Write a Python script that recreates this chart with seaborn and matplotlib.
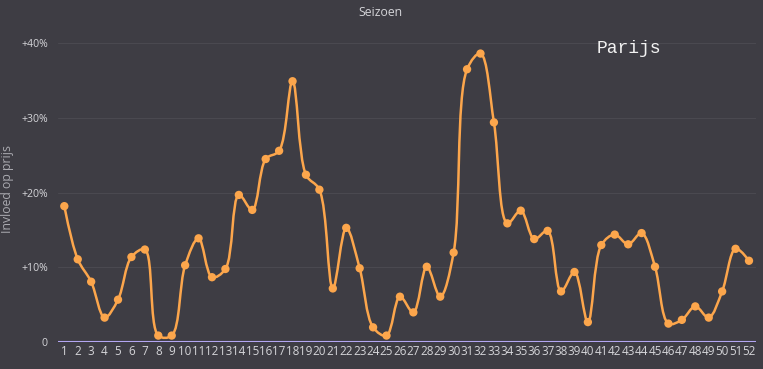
import numpy as np
import pandas as pd
import matplotlib
matplotlib.use("Agg")
import matplotlib.pyplot as plt
from matplotlib.path import Path
from matplotlib.patches import PathPatch
import seaborn as sns

# week numbers and seasonal price influence (%)
weeks = list(range(1, 53))
influence = [18.2, 11.1, 8.1, 3.3, 5.7, 11.4, 12.4, 0.9, 0.9, 10.3,
             13.9, 8.7, 9.8, 19.7, 17.7, 24.5, 25.6, 34.9, 22.4, 20.4,
             7.2, 15.3, 9.9, 2.0, 0.9, 6.1, 4.0, 10.1, 6.1, 12.0,
             36.5, 38.6, 29.4, 15.9, 17.6, 13.8, 14.9, 6.8, 9.4, 2.7,
             13.0, 14.4, 13.1, 14.6, 10.1, 2.5, 3.0, 4.8, 3.3, 6.8,
             12.5, 10.9]
y_ticks = [0, 10, 20, 30, 40]
y_tick_labels = ["0", "+10%", "+20%", "+30%", "+40%"]

BG = "#3e3d44"
GRID = "#4a4950"
TEXT = "#d4d4d8"
LINE = "#fca64c"
AXIS = "#b3a6f2"

df = pd.DataFrame({"week": weeks, "influence": influence})

sns.set_theme(style="dark")
plt.rcParams["font.family"] = ["Open Sans", "DejaVu Sans"]

fig = plt.figure(figsize=(7.63, 3.69), dpi=100, facecolor=BG)
W, H = 763, 369
left, right, bottom, top = 57.6, 755.7, 342.3, 35.6
ax = fig.add_axes([left / W, 1 - bottom / H, (right - left) / W, (bottom - top) / H])
ax.set_facecolor(BG)
ax.set_xlim(0.5, 52.5)
ax.set_ylim(0, 41)


def spline_path(xs, ys, smoothness=1.0):
    # plotly-style spline, computed in display space
    pts = ax.transData.transform(np.column_stack([xs, ys]))
    tangents = []
    for i in range(1, len(pts) - 1):
        p0, p1, p2 = pts[i - 1], pts[i], pts[i + 1]
        d1 = p0 - p1
        d2 = p2 - p1
        d1a = np.hypot(*d1) ** 0.5
        d2a = np.hypot(*d2) ** 0.5
        num = (d2a * d2a * d1 - d1a * d1a * d2) * smoothness
        den1 = 3 * d2a * (d1a + d2a)
        den2 = 3 * d1a * (d1a + d2a)
        tangents.append((p1 + num / den1, p1 - num / den2))
    verts = [pts[0], tangents[0][0], pts[1]]
    codes = [Path.MOVETO, Path.CURVE3, Path.CURVE3]
    for i in range(1, len(pts) - 2):
        verts += [tangents[i - 1][1], tangents[i][0], pts[i + 1]]
        codes += [Path.CURVE4] * 3
    verts += [tangents[-1][1], pts[-1]]
    codes += [Path.CURVE3] * 2
    verts = ax.transData.inverted().transform(np.array(verts))
    return Path(verts, codes)


ax.add_patch(PathPatch(spline_path(df["week"].values, df["influence"].values),
                       facecolor="none", edgecolor=LINE, lw=1.8, zorder=3))
sns.scatterplot(data=df, x="week", y="influence", ax=ax, color=LINE,
                s=36, edgecolor="none", zorder=4, legend=False)

for v in y_ticks[1:]:
    ax.axhline(v, color=GRID, lw=0.8, zorder=1)
ax.axhline(0, color=AXIS, lw=1.5, zorder=2)

ax.set_yticks(y_ticks)
ax.set_yticklabels(y_tick_labels)
ax.set_xticks(weeks)
ax.set_xticklabels([str(w) for w in weeks])
ax.tick_params(axis="both", length=0, colors=TEXT)
ax.tick_params(axis="x", pad=2, labelsize=8.4)
ax.tick_params(axis="y", pad=7, labelsize=7.6)

# boundary ticks under the x axis
ax.set_xticks([w + 0.5 for w in weeks[:-1]], minor=True)
ax.tick_params(axis="x", which="minor", length=4, width=1, color=AXIS, direction="out")

for s in ax.spines.values():
    s.set_visible(False)

ax.set_xlabel("")
ax.set_ylabel("Invloed op prijs", color="#aaaab0", fontsize=8.8)
ax.yaxis.set_label_coords(-0.0625, 0.5)
fig.text(0.498, 0.965, "Seizoen", ha="center", va="center", color=TEXT, fontsize=8.8)
ax.text(40.65, 39.3, "Parijs", family=["Liberation Mono", "DejaVu Sans Mono"],
        color="#f2f2f2", fontsize=13, ha="left", va="center")

fig.savefig("out.png", dpi=100, facecolor=BG)
